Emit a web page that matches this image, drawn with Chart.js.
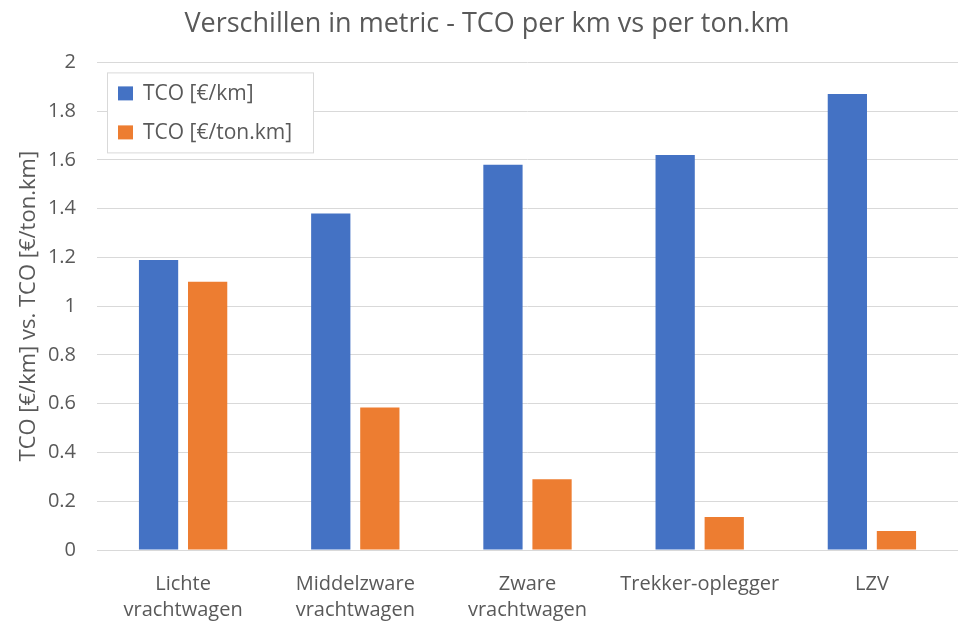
<!DOCTYPE html>
<html>
<head>
<meta charset="utf-8">
<script src="https://cdn.jsdelivr.net/npm/chart.js@4/dist/chart.umd.min.js"></script>
<style>
  html, body { margin: 0; padding: 0; background: #fff; }
  #wrap { width: 958px; height: 628px; position: relative; }
</style>
</head>
<body>
<div id="wrap"><canvas id="tcoChart"></canvas></div>
<script>
// Data
const categories = [['Lichte', 'vrachtwagen'], ['Middelzware', 'vrachtwagen'], ['Zware', 'vrachtwagen'], 'Trekker-oplegger', 'LZV'];
const tcoPerKm = [1.19, 1.38, 1.58, 1.62, 1.87];
const tcoPerTonKm = [1.10, 0.585, 0.29, 0.135, 0.078];
const yTicks = [0, 0.2, 0.4, 0.6, 0.8, 1, 1.2, 1.4, 1.6, 1.8, 2];

const FONT = "'Open Sans', sans-serif";
const TEXT = '#595959';

// Legend drawn inside the plot area, top left, like the Excel original
const innerLegend = {
    id: 'innerLegend',
    afterDraw(chart) {
        const ctx = chart.ctx;
        const area = chart.chartArea;
        const x = area.left + 10;
        const y = area.top + 10;
        const w = 206;
        const h = 80;
        ctx.save();
        ctx.fillStyle = '#fff';
        ctx.fillRect(x, y, w, h);
        ctx.strokeStyle = '#d9d9d9';
        ctx.lineWidth = 1;
        ctx.strokeRect(x + 0.5, y + 0.5, w, h);
        ctx.font = '21px ' + FONT;
        ctx.textBaseline = 'middle';
        chart.data.datasets.forEach((ds, i) => {
            const cy = y + 21 + i * 39;
            ctx.fillStyle = ds.backgroundColor;
            ctx.fillRect(x + 11, cy - 7, 15, 14);
            ctx.fillStyle = TEXT;
            ctx.fillText(ds.label, x + 36, cy + 1);
        });
        ctx.restore();
    }
};

new Chart(document.getElementById('tcoChart'), {
    type: 'bar',
    data: {
        labels: categories,
        datasets: [
            { label: 'TCO [€/km]', data: tcoPerKm, backgroundColor: '#4472c4' },
            { label: 'TCO [€/ton.km]', data: tcoPerTonKm, backgroundColor: '#ed7d31' }
        ]
    },
    options: {
        responsive: true,
        maintainAspectRatio: false,
        animation: false,
        categoryPercentage: 0.57,
        barPercentage: 0.8,
        layout: { padding: { left: 16, right: 0, top: 8, bottom: 0 } },
        plugins: {
            legend: { display: false },
            tooltip: { enabled: false },
            title: {
                display: true,
                text: 'Verschillen in metric - TCO per km vs per ton.km',
                color: TEXT,
                font: { family: FONT, size: 27, weight: 'normal' },
                padding: { top: 0, bottom: 22 }
            }
        },
        scales: {
            x: {
                afterFit(axis) { axis.height = 78; },
                grid: { display: false },
                border: { color: '#d9d9d9' },
                ticks: {
                    color: TEXT,
                    font: { family: FONT, size: 20, lineHeight: 1.32 },
                    maxRotation: 0,
                    autoSkip: false,
                    padding: 13
                }
            },
            y: {
                min: 0,
                max: 2,
                afterBuildTicks(axis) {
                    axis.ticks = yTicks.map(v => ({ value: v }));
                },
                afterFit(axis) { axis.width = 81; },
                grid: { color: '#d9d9d9', drawTicks: false },
                border: { display: false },
                ticks: {
                    color: TEXT,
                    font: { family: FONT, size: 20 },
                    padding: 21,
                    callback: v => String(v)
                },
                title: {
                    display: true,
                    text: 'TCO [€/km] vs. TCO [€/ton.km]',
                    color: TEXT,
                    font: { family: FONT, size: 22, weight: 'normal' },
                    padding: { top: 0, bottom: 4 }
                }
            }
        }
    },
    plugins: [innerLegend]
});
</script>
</body>
</html>
